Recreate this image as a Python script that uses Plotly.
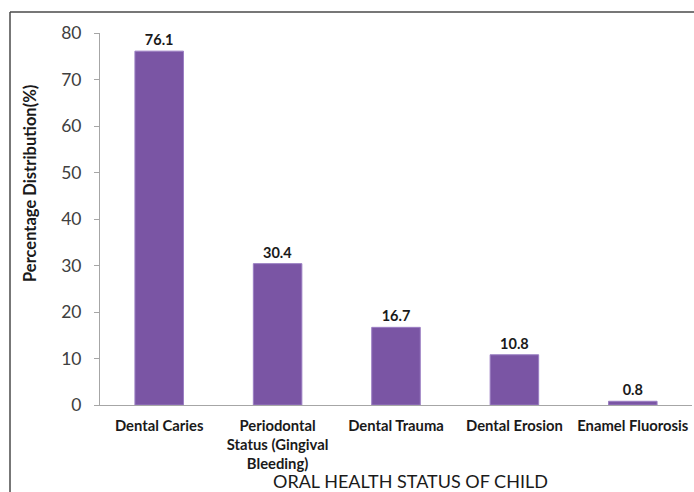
import plotly.graph_objects as go

categories = ["Dental Caries", "Periodontal<br>Status (Gingival<br>Bleeding)", "Dental Trauma",
              "Dental Erosion", "Enamel Fluorosis"]
values = [76.1, 30.4, 16.7, 10.8, 0.8]
value_labels = ["76.1", "30.4", "16.7", "10.8", "0.8"]
y_ticks = [0, 10, 20, 30, 40, 50, 60, 70, 80]

W, H = 694, 492
L, R, T, B = 100, 2, 33, 87
pw, ph = W - L - R, H - T - B

def px(x):
    return (x - L) / pw

def py(y):
    return (H - B - y) / ph

fig = go.Figure(go.Bar(
    x=categories, y=values,
    text=value_labels, textposition="outside",
    textfont=dict(family="Lato", size=14.5, color="#1a1a1a", weight="bold"),
    marker=dict(color="#7a55a4", line=dict(color="#9b7fc3", width=1)),
    cliponaxis=False,
    width=0.41,
))

fig.update_layout(
    width=W, height=H,
    margin=dict(l=L, r=R, t=T, b=B),
    plot_bgcolor="white", paper_bgcolor="white",
    showlegend=False,
    font=dict(family="Lato"),
    xaxis=dict(
        showline=True, linecolor="#a6a6a6", linewidth=1,
        ticks="", showgrid=False,
        tickfont=dict(family="Lato", size=14.8, color="#1a1a1a", weight="bold"),
        ticklabelstandoff=7,
    ),
    yaxis=dict(
        range=[0, 80], tickvals=y_ticks,
        showline=True, linecolor="#a6a6a6", linewidth=1,
        ticks="outside", ticklen=5, tickcolor="#a6a6a6",
        showgrid=False, zeroline=False,
        tickfont=dict(family="Lato", size=17.5, color="#404040"),
        ticklabelstandoff=9,
    ),
    annotations=[
        dict(
            text="ORAL HEALTH STATUS OF CHILD",
            xref="paper", yref="paper", x=px(410), y=py(481),
            xanchor="center", yanchor="middle", showarrow=False,
            font=dict(family="Lato", size=18, color="#1a1a1a"),
        ),
        dict(
            text="<b>Percentage Distribution(%)</b>",
            xref="paper", yref="paper", x=px(30), y=py(184),
            xanchor="center", yanchor="middle", showarrow=False, textangle=-90,
            font=dict(family="Lato", size=16.5, color="#1a1a1a"),
        ),
    ],
    shapes=[
        dict(type="line", xref="paper", yref="paper", x0=px(10), x1=px(10), y0=py(12), y1=py(500),
             line=dict(color="#4a4a4a", width=1.5)),
        dict(type="line", xref="paper", yref="paper", x0=px(10), x1=px(700), y0=py(12), y1=py(12),
             line=dict(color="#4a4a4a", width=1.5)),
    ],
)

fig.write_html("out.html")
